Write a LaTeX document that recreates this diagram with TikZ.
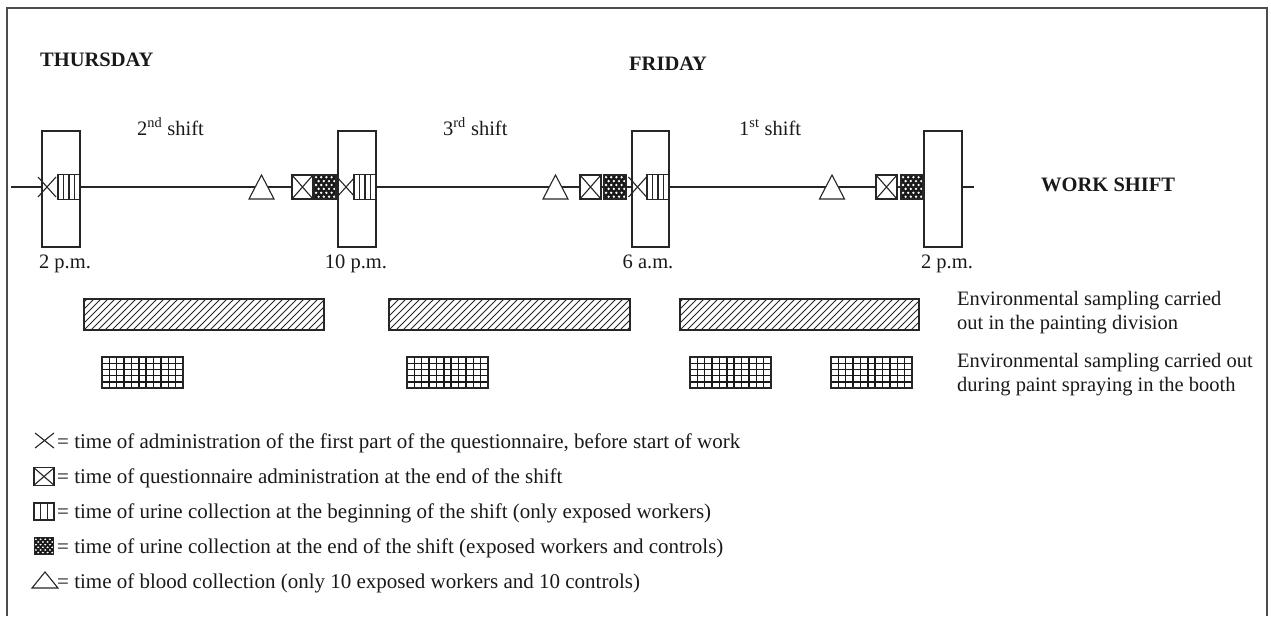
\documentclass[tikz,border=0pt]{standalone}
\usepackage{fontspec}
\setmainfont{Liberation Serif}
\begin{document}
\begin{tikzpicture}[x=1pt,y=-1pt,
  txt/.style={inner sep=0pt,font=\fontsize{20.5}{24}\selectfont,text=black!90},
  legtxt/.style={inner sep=0pt,font=\fontsize{21}{25}\selectfont,text=black!90},
  bold/.style={txt,font=\fontsize{20.5}{24}\selectfont\bfseries},
  sym/.style={line width=1.1pt,draw=black!85},
  tallbox/.style={line width=1.3pt,draw=black!85,fill=white},
  frameline/.style={line width=1.6pt,draw=black!70},
  hatchline/.style={line width=1pt,draw=black!85},
  gridline/.style={line width=1.4pt,draw=black!90},
  barborder/.style={line width=1.4pt,draw=black!85},
  xmark/.pic={\draw[sym] (-9,-10)--(9,10) (-9,10)--(9,-10);},
  qbox/.pic={\draw[sym,fill=white] (-10.5,-12) rectangle (10.5,12);
             \draw[sym] (-10.5,-12)--(10.5,12) (-10.5,12)--(10.5,-12);},
  ubox/.pic={\draw[sym,fill=white] (-11,-12.5) rectangle (11,12.5);
             \foreach \u in {-5.5,0,5.5} \draw[sym] (\u,-12.5)--(\u,12.5);},
  uboxl/.pic={\draw[sym,fill=white] (-10,-8.5) rectangle (10,8.5);
             \foreach \u in {-3.3,3.3} \draw[sym] (\u,-8.5)--(\u,8.5);},
  ebox/.pic={\fill[black!90] (-11,-12) rectangle (11,12);
             \begin{scope}
             \clip (-11,-12) rectangle (11,12);
             \foreach \r in {0,...,5}{
               \pgfmathsetmacro{\sh}{mod(\r,2)*2.6}
               \foreach \c in {0,...,4}
                 \fill[white] ({-9+\sh+\c*5.2},{-9.8+\r*3.9}) circle (1.3);
             }
             \end{scope}
             \draw[sym] (-11,-12) rectangle (11,12);},
  tri/.pic={\draw[sym,fill=white] (-12.5,12)--(12.5,12)--(0,-12)--cycle;}
]
\useasboundingbox (0,0) rectangle (1271,616);
% frame
\draw[frameline] (7,616) -- (7,8) -- (1267,8) -- (1267,616);

% headings
\node[bold,anchor=base west] (thu) at (40,66) {THURSDAY};
\node[bold,anchor=base west] (fri) at (629,70) {FRIDAY};
\node[bold,anchor=base west] (ws) at (1041,191) {WORK SHIFT};
\node[txt,anchor=base west] (s2) at (137,135) {2\textsuperscript{nd} shift};
\node[txt,anchor=base west] (s3) at (443,135) {3\textsuperscript{rd} shift};
\node[txt,anchor=base west] (s1) at (739,135) {1\textsuperscript{st} shift};

% timeline
\coordinate (tl) at (11,187);
\coordinate (tr) at (974,187);
\draw[sym] (tl) -- (tr);

% tall boxes
\node[tallbox,minimum width=38pt,minimum height=116pt,inner sep=0pt] (b1) at (61,189) {};
\node[tallbox,minimum width=38pt,minimum height=116pt,inner sep=0pt] (b2) at (357,189) {};
\node[tallbox,minimum width=37pt,minimum height=116pt,inner sep=0pt] (b3) at (650.5,189) {};
\node[tallbox,minimum width=38pt,minimum height=116pt,inner sep=0pt] (b4) at (943,189) {};

% symbols on the timeline
\pic at (47,187) {xmark};
\pic at (69,187) {ubox};

\pic at (261.5,187) {tri};
\pic at (302.5,187) {qbox};
\pic at (325,187) {ebox};
\pic at (346,187) {xmark};
\pic at (365,187) {ubox};

\pic at (555.5,187) {tri};
\pic at (590.5,187) {qbox};
\pic at (615,187) {ebox};
\pic at (637.5,187) {xmark};
\pic at (658,187) {ubox};

\pic at (832,187) {tri};
\pic at (886.5,187) {qbox};
\pic at (912,187) {ebox};

% time labels
\node[txt,anchor=base] (t1) at (65,268) {2 p.m.};
\node[txt,anchor=base] (t2) at (356,268) {10 p.m.};
\node[txt,anchor=base] (t3) at (648,268) {6 a.m.};
\node[txt,anchor=base] (t4) at (947,268) {2 p.m.};

% hatched bars
\foreach \a/\b in {84/324, 389/630, 680/919}{
  \begin{scope}
    \clip (\a,299) rectangle (\b,330);
    \foreach \k in {-35,-28,...,250}
      \draw[hatchline] ({\a+\k},330) -- ({\a+\k+31},299);
  \end{scope}
  \draw[barborder] (\a,299) rectangle (\b,330);
}

% grid bars
\foreach \a in {102,407,690,831}{
  \foreach \j in {1,...,10}
    \draw[gridline] ({\a+\j*81/11},357) -- ({\a+\j*81/11},388);
  \foreach \i in {1,...,4}
    \draw[gridline] (\a,{357+\i*31/5}) -- ({\a+81},{357+\i*31/5});
  \draw[barborder] (\a,357) rectangle ({\a+81},388);
}

% right-hand texts
\node[txt,anchor=base west] (e1) at (957,305) {Environmental sampling carried};
\node[txt,anchor=base west] (e2) at (957,329) {out in the painting division};
\node[txt,anchor=base west] (e3) at (957,367) {Environmental sampling carried out};
\node[txt,anchor=base west] (e4) at (957,391) {during paint spraying in the booth};

% legend
\pic[xscale=1.05,yscale=0.75] at (44.5,440.5) {xmark};
\pic[xscale=0.95,yscale=0.72] at (44,476.5) {qbox};
\pic at (44,511.5) {uboxl};
\pic[xscale=0.9,yscale=0.68] at (44,546) {ebox};
\pic[xscale=1.04,yscale=0.67] at (45,580) {tri};

\node[legtxt,anchor=base west] (l1) at (57,448) {= time of administration of the first part of the questionnaire, before start of work};
\node[legtxt,anchor=base west] (l2) at (57,483) {= time of questionnaire administration at the end of the shift};
\node[legtxt,anchor=base west] (l3) at (57,518) {= time of urine collection at the beginning of the shift (only exposed workers)};
\node[legtxt,anchor=base west] (l4) at (57,553) {= time of urine collection at the end of the shift (exposed workers and controls)};
\node[legtxt,anchor=base west] (l5) at (57,588) {= time of blood collection (only 10 exposed workers and 10 controls)};
\end{tikzpicture}
\end{document}
